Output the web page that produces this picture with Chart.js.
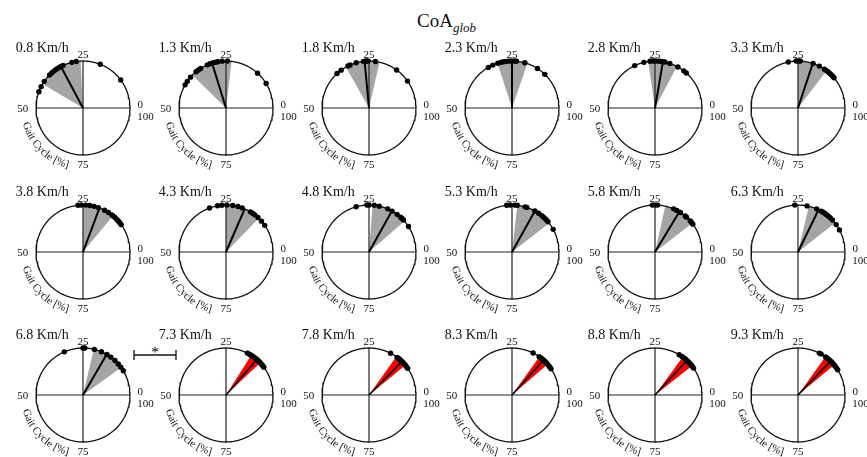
<!DOCTYPE html>
<html>
<head>
<meta charset="utf-8">
<script src="https://cdn.jsdelivr.net/npm/chart.js@4.4.1/dist/chart.umd.min.js"></script>
<style>
  body { margin: 0; background: #fff; }
  #fig { position: relative; width: 867px; height: 457px; overflow: hidden; font-family: "Liberation Serif", serif; color: #111; }
  #fig canvas { position: absolute; }
  #title { position: absolute; left: 417px; top: 11px; font-size: 19px; line-height: 19px; white-space: nowrap; }
  #title sub { font-size: 13px; font-style: italic; vertical-align: -5px; line-height: 0; }
  #sig { position: absolute; left: 0; top: 0; }
</style>
</head>
<body>
<div id="fig">
  <div id="title">CoA<sub>glob</sub></div>
  <svg id="sig" width="867" height="457">
    <line x1="134" y1="355" x2="176" y2="355" stroke="#111" stroke-width="1.3"/>
    <line x1="134" y1="350" x2="134" y2="360" stroke="#111" stroke-width="1.3"/>
    <line x1="176" y1="350" x2="176" y2="360" stroke="#111" stroke-width="1.3"/>
    <text x="155" y="357" font-family="Liberation Serif" font-size="15" text-anchor="middle" fill="#000">*</text>
  </svg>
</div>
<script>
// walking speeds, one panel each
const speeds = ['0.8 Km/h', '1.3 Km/h', '1.8 Km/h', '2.3 Km/h', '2.8 Km/h', '3.3 Km/h',
                '3.8 Km/h', '4.3 Km/h', '4.8 Km/h', '5.3 Km/h', '5.8 Km/h', '6.3 Km/h',
                '6.8 Km/h', '7.3 Km/h', '7.8 Km/h', '8.3 Km/h', '8.8 Km/h', '9.3 Km/h'];

// single subjects, gait cycle [%]
const dotPct = [
  [10.2, 19.0, 27.3, 28.8, 32.0, 33.0, 33.7, 34.6, 35.5, 36.5, 37.6, 40.4, 42.5, 44.4],
  [8.7, 13.3, 24.5, 26.3, 27.8, 28.6, 29.4, 30.5, 31.5, 34.1, 35.0, 36.0, 38.6, 40.4, 41.8],
  [9.7, 15.0, 22.8, 25.3, 25.8, 26.3, 26.9, 29.4, 31.6, 32.4, 35.1, 36.9],
  [12.7, 15.9, 20.6, 23.5, 24.2, 25.2, 26.0, 26.9, 27.8, 28.7, 29.9, 31.7, 33.4],
  [13.4, 14.5, 16.9, 19.9, 21.6, 22.4, 23.3, 24.1, 25.0, 25.8, 26.7, 28.8, 32.1],
  [11.1, 11.8, 12.5, 13.3, 14.0, 14.8, 15.5, 17.5, 19.8, 24.2, 24.9, 25.6, 28.3],
  [9.9, 10.6, 11.4, 12.2, 13.1, 13.8, 14.5, 15.9, 17.4, 19.7, 21.2, 22.7, 24.1, 25.6, 26.7],
  [9.6, 11.4, 13.1, 14.5, 15.4, 16.3, 19.4, 20.9, 22.7, 24.7, 26.4, 27.9, 30.7],
  [9.1, 11.9, 12.6, 13.3, 14.8, 16.8, 18.5, 21.5, 23.2, 25.0, 25.7, 29.4],
  [8.0, 11.1, 11.9, 12.7, 13.4, 14.1, 15.4, 16.9, 19.9, 20.5, 23.2, 24.1, 25.6, 26.8],
  [10.1, 10.8, 11.5, 13.3, 13.9, 15.9, 17.3, 18.5, 24.1, 25.0, 25.9],
  [7.8, 9.9, 11.9, 13.0, 14.0, 14.7, 15.4, 16.1, 16.8, 18.5, 21.9, 26.1],
  [8.6, 10.1, 11.5, 13.1, 14.9, 16.5, 18.6, 21.1, 24.4, 25.0, 31.5],
  [10.1, 10.8, 11.4, 12.0, 12.5, 13.0, 13.5, 14.0, 14.5, 15.0, 15.6, 16.1, 16.7, 17.5],
  [9.6, 10.3, 11.0, 11.6, 12.2, 12.8, 13.3, 13.8, 14.3, 14.8, 17.4],
  [9.4, 10.0, 10.7, 11.3, 11.9, 12.4, 12.9, 13.5, 14.0, 14.6, 15.2, 17.6],
  [9.7, 10.4, 11.0, 11.6, 12.2, 12.8, 13.4, 14.0, 14.6, 15.3, 16.4],
  [9.0, 9.8, 10.6, 11.3, 11.9, 12.5, 13.1, 13.7, 14.3, 15.0, 16.8, 17.5]
];

// mean direction and spread band
const meanPct  = [32.8, 29.8, 26.5, 25.0, 22.3, 19.9, 19.3, 18.5, 16.9, 16.9, 16.3, 17.8, 16.6, 13.6, 12.6, 13.3, 13.1, 12.8];
const bandLow  = [25.8, 23.1, 21.4, 19.7, 17.3, 14.6, 14.0, 12.7, 11.4, 10.5, 10.5, 10.6, 9.9, 12.0, 10.9, 11.3, 10.6, 11.0];
const bandHigh = [41.5, 37.7, 33.2, 30.0, 27.3, 25.0, 25.0, 25.0, 23.8, 23.2, 21.5, 21.3, 21.3, 16.0, 15.2, 15.1, 15.0, 15.1];
const isSignif = [false, false, false, false, false, false, false, false, false, false, false, false, false, true, true, true, true, true];

const tickLabels = ['0', '25', '50', '75', '100'];
const axisTitle = 'Gait Cycle [%]';

const toXY = (p, r = 1) => ({ x: r * Math.cos(p / 100 * 2 * Math.PI), y: r * Math.sin(p / 100 * 2 * Math.PI) });

const ring = [];
for (let k = 0; k <= 120; k++) ring.push(toXY(k / 1.2));

function wedge(lo, hi) {
  const pts = [{ x: 0, y: 0 }];
  for (let p = lo; p < hi; p += 0.5) pts.push(toXY(p));
  pts.push(toXY(hi));
  return pts;
}

const panelText = {
  id: 'panelText',
  afterDraw(chart) {
    const { ctx, scales: { x, y } } = chart;
    const i = chart.options.plugins.panelText.index;
    const px = v => x.getPixelForValue(v);
    const py = v => y.getPixelForValue(v);
    ctx.save();
    ctx.fillStyle = '#111';
    ctx.font = '14px "Liberation Serif"';
    ctx.textAlign = 'left';
    ctx.textBaseline = 'middle';
    ctx.fillText(speeds[i], px(-1.43), py(1.28));

    ctx.font = '11px "Liberation Serif"';
    ctx.textAlign = 'center';
    ctx.fillText(tickLabels[1], px(0), py(1.13));
    ctx.fillText(tickLabels[0], px(1.22), py(0.07));
    ctx.fillText(tickLabels[4], px(1.33), py(-0.19));
    ctx.fillText(tickLabels[2], px(-1.28), py(-0.02));
    ctx.fillText(tickLabels[3], px(0), py(-1.21));

    // axis title bent along the lower left of the circle
    const cx = px(0), cy = py(0), r = (px(1) - px(0)) * 1.32;
    ctx.font = '11px "Liberation Serif"';
    ctx.textBaseline = 'alphabetic';
    const total = ctx.measureText(axisTitle).width;
    let phi = 135 * Math.PI / 180 + total / (2 * r);
    for (const ch of axisTitle) {
      const w = ctx.measureText(ch).width;
      const a = phi - w / (2 * r);
      ctx.save();
      ctx.translate(cx + r * Math.cos(a), cy + r * Math.sin(a));
      ctx.rotate(a - Math.PI / 2);
      ctx.fillText(ch, 0, 0);
      ctx.restore();
      phi -= w / r;
    }
    ctx.restore();
  }
};

const fig = document.getElementById('fig');
const cols = [83, 226, 369, 512, 655, 798];
const rows = [108, 252, 395];

speeds.forEach((s, i) => {
  const cx = cols[i % 6], cy = rows[Math.floor(i / 6)];
  const cv = document.createElement('canvas');
  cv.width = 143;
  cv.height = 140;
  cv.style.left = (cx - 71) + 'px';
  cv.style.top = (cy - 70) + 'px';
  fig.appendChild(cv);

  const red = isSignif[i];
  new Chart(cv, {
    type: 'scatter',
    data: {
      datasets: [
        { data: dotPct[i].map(p => toXY(p)), pointRadius: 2.7, pointBackgroundColor: '#000', pointBorderWidth: 0, order: 1, clip: false },
        { data: [{ x: 0, y: 0 }, toXY(meanPct[i])], showLine: true, borderColor: '#000', borderWidth: red ? 1.6 : 2, pointRadius: 0, order: 2, clip: false },
        { data: ring, showLine: true, borderColor: '#111', borderWidth: 1.3, pointRadius: 0, order: 3, clip: false },
        { data: [{ x: -1, y: 0 }, { x: 1, y: 0 }], showLine: true, borderColor: '#222', borderWidth: 1.2, pointRadius: 0, order: 4, clip: false },
        { data: [{ x: 0, y: -1 }, { x: 0, y: 1 }], showLine: true, borderColor: '#222', borderWidth: 1.2, pointRadius: 0, order: 4, clip: false },
        { data: wedge(bandLow[i], bandHigh[i]), showLine: true, borderWidth: 0, pointRadius: 0,
          backgroundColor: red ? '#ff0000' : '#a5a5a5', fill: 'shape', order: 5, clip: false }
      ]
    },
    options: {
      responsive: false,
      animation: false,
      events: [],
      layout: { padding: { left: 24, right: 25, top: 23, bottom: 23 } },
      scales: {
        x: { type: 'linear', min: -1, max: 1, display: false },
        y: { type: 'linear', min: -1, max: 1, display: false }
      },
      plugins: { legend: { display: false }, tooltip: { enabled: false }, panelText: { index: i } }
    },
    plugins: [panelText]
  });
});
</script>
</body>
</html>
